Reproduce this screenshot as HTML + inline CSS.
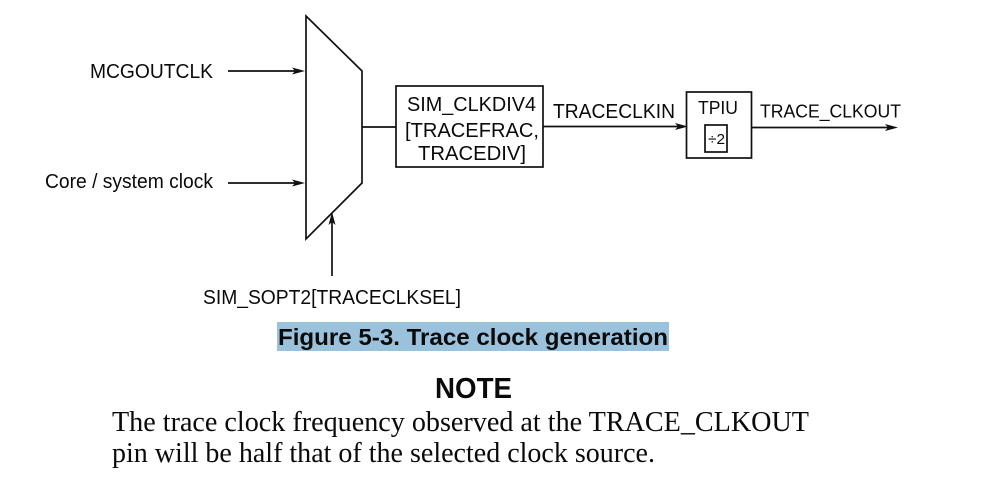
<!DOCTYPE html>
<html>
<head>
<meta charset="utf-8">
<style>
html,body{margin:0;padding:0;background:#fff;width:998px;height:491px;overflow:hidden}
svg{display:block;filter:blur(0.35px)}
text{fill:#0a0a0a;font-family:"Liberation Sans",sans-serif;font-size:20px}
.s{font-family:"Liberation Serif",serif;font-size:29px;fill:#0a0a0a}
.b{font-weight:bold}
</style>
</head>
<body>
<svg width="998" height="491" viewBox="0 0 998 491" xmlns="http://www.w3.org/2000/svg">
<rect width="998" height="491" fill="#fff"/>
<g fill="none" stroke="#111" stroke-width="1.7">
<polygon points="306,16 362,71 362,183 306,239"/>
<rect x="396" y="86" width="147" height="81"/>
<rect x="686.5" y="92" width="65" height="66"/>
<rect x="705" y="125" width="22" height="27"/>
<line x1="228" y1="71" x2="298" y2="71"/>
<line x1="228" y1="183" x2="298" y2="183"/>
<line x1="332" y1="276" x2="332" y2="220"/>
<line x1="362" y1="127" x2="396" y2="127"/>
<line x1="543" y1="126.5" x2="680" y2="126.5"/>
<line x1="752" y1="127.5" x2="892" y2="127.5"/>
</g>
<g fill="#111">
<polygon points="305,71 292,67.5 295,71 292,74.5"/>
<polygon points="305,183 292,179.5 295,183 292,186.5"/>
<polygon points="332,212 328.5,225 332,222 335.5,225"/>
<polygon points="688,126.5 675,123 678,126.5 675,130"/>
<polygon points="898,127.5 885,124 888,127.5 885,131"/>
</g>
<text x="90" y="78" textLength="123" lengthAdjust="spacingAndGlyphs">MCGOUTCLK</text>
<text x="45" y="188" textLength="168" lengthAdjust="spacingAndGlyphs">Core / system clock</text>
<text x="203" y="304" textLength="258" lengthAdjust="spacingAndGlyphs">SIM_SOPT2[TRACECLKSEL]</text>
<text x="407" y="111" textLength="129" lengthAdjust="spacingAndGlyphs">SIM_CLKDIV4</text>
<text x="405" y="137" textLength="134" lengthAdjust="spacingAndGlyphs">[TRACEFRAC,</text>
<text x="418" y="160" textLength="108" lengthAdjust="spacingAndGlyphs">TRACEDIV]</text>
<text x="553" y="118" textLength="122" lengthAdjust="spacingAndGlyphs">TRACECLKIN</text>
<text x="698" y="114" textLength="40" lengthAdjust="spacingAndGlyphs" style="font-size:18px">TPIU</text>
<text x="708" y="144" textLength="17" lengthAdjust="spacingAndGlyphs" style="font-size:15px">÷2</text>
<text x="760" y="117.5" textLength="141" lengthAdjust="spacingAndGlyphs" style="font-size:18.5px">TRACE_CLKOUT</text>
<rect x="277" y="322" width="392" height="29" fill="#9bc2dc"/>
<text class="b" x="278" y="345" textLength="390" lengthAdjust="spacingAndGlyphs" style="font-size:23.5px">Figure 5-3. Trace clock generation</text>
<text class="b" x="435" y="398" textLength="77" lengthAdjust="spacingAndGlyphs" style="font-size:29px">NOTE</text>
<text class="s" x="112" y="431" textLength="697" lengthAdjust="spacingAndGlyphs">The trace clock frequency observed at the TRACE_CLKOUT</text>
<text class="s" x="112" y="462" textLength="543" lengthAdjust="spacingAndGlyphs">pin will be half that of the selected clock source.</text>
</svg>
</body>
</html>
